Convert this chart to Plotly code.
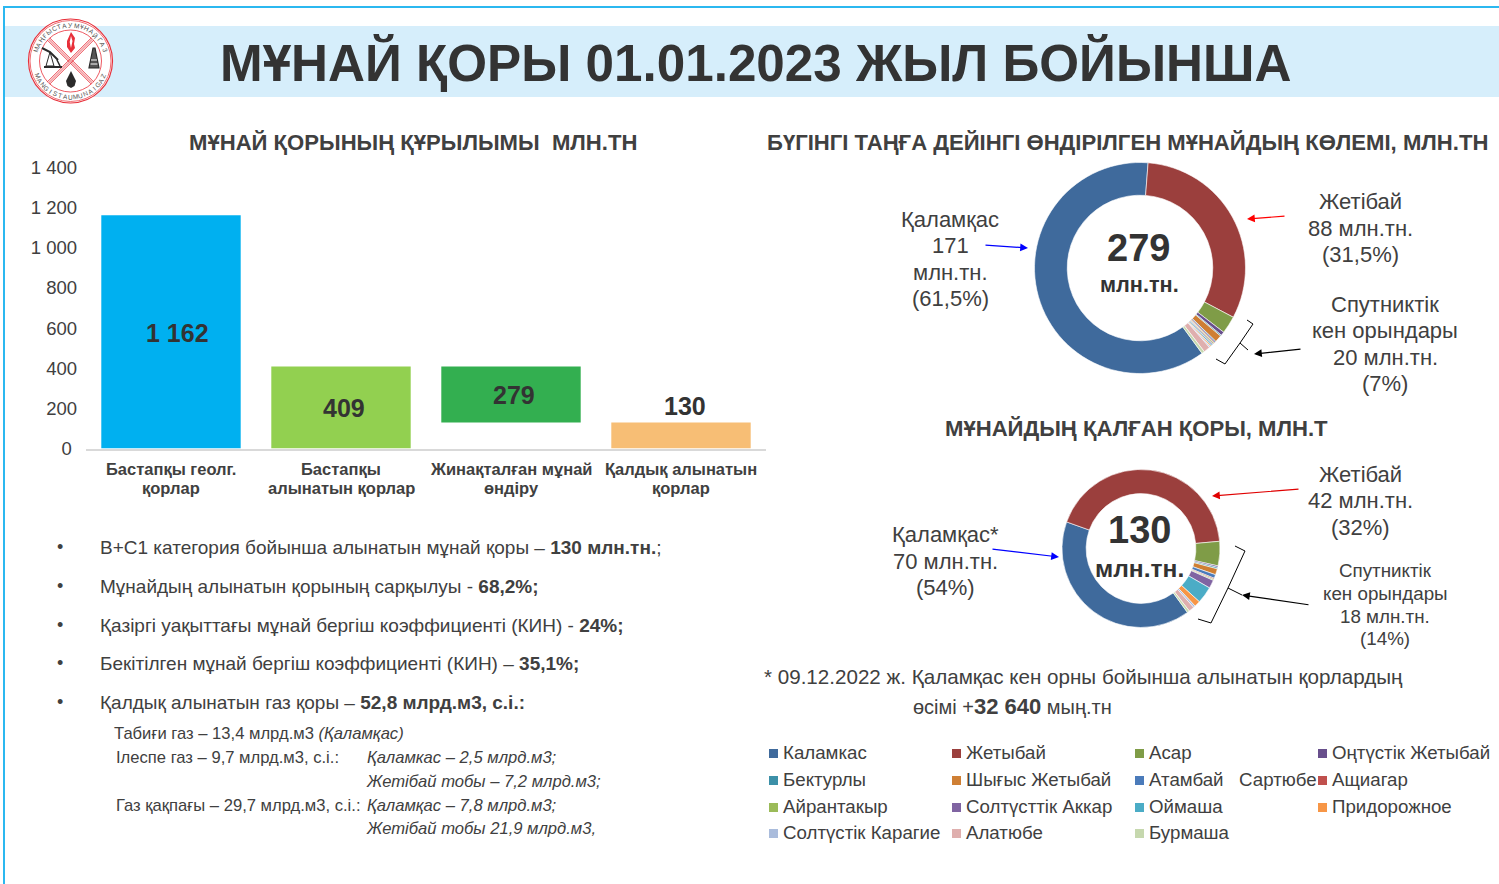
import math
import plotly.graph_objects as go

W, H = 1499, 884
FONT = "Liberation Sans"
DARK = "#404040"

# ---------- data ----------
bar_categories = ["Бастапқы геолг.<br>қорлар", "Бастапқы<br>алынатын қорлар",
                  "Жинақталған мұнай<br>өндіру", "Қалдық алынатын<br>қорлар"]
bar_values = [1162, 409, 279, 130]
bar_bases = [0, 0, 130, 0]
bar_labels = ["1 162", "409", "279", "130"]
bar_colors = ["#00B0F0", "#92D050", "#33AF50", "#F7BE75"]
y_tick_values = [0, 200, 400, 600, 800, 1000, 1200, 1400]
y_tick_labels = ["0\u00a0", "200", "400", "600", "800", "1 000", "1 200", "1 400"]

fields = ["Каламкас", "Жетыбай", "Асар", "Оңтүстік Жетыбай", "Бектурлы", "Шығыс Жетыбай",
          "Атамбай   Сартюбе", "Ащиагар", "Айрантакыр", "Солтүсттік Аккар", "Оймаша",
          "Придорожное", "Солтүстік Карагие", "Алатюбе", "Бурмаша"]
field_colors = ["#3F6A9C", "#9B3F3D", "#7F9C47", "#684F8C", "#3C90A8", "#CF7F34", "#4B7BBA",
                "#C0504D", "#9BBB59", "#8064A2", "#4BACC6", "#F79646", "#AABCDC", "#DFAFAE",
                "#C6D8AE"]
produced = [171, 88, 7.5, 1.6, 0.5, 3.0, 0.6, 0.5, 0.5, 0.5, 0.6, 0.5, 0.5, 2.8, 1.2]
remaining = [52.6, 56, 6.5, 0.4, 0.4, 1.6, 1.0, 0.3, 0.3, 2.2, 4.5, 1.6, 0.5, 1.5, 0.6]


# ---------- pixel helpers ----------
def px(x):
    return x / W


def py(y):
    return 1 - y / H


annotations = []
shapes = []


def T(x, y, text, size, color=DARK, bold=False, anchor="center", angle=0):
    annotations.append(dict(
        x=px(x), y=py(y), xref="paper", yref="paper", text=f"<b>{text}</b>" if bold else text,
        showarrow=False, xanchor=anchor, yanchor="middle", textangle=angle, borderpad=0, borderwidth=0,
        font=dict(family=FONT, size=size, color=color)))


def arrow(x0, y0, x1, y1, color):
    annotations.append(dict(
        x=px(x1), y=py(y1), xref="paper", yref="paper", text="", showarrow=True,
        ax=x0 - x1, ay=y0 - y1, axref="pixel", ayref="pixel",
        arrowhead=2, arrowsize=1.3, arrowwidth=1.2, arrowcolor=color))


def path(points, color=None, fill=None, width=1, close=False, layer="above"):
    d = "M" + " L".join(f"{px(x):.5f},{py(y):.5f}" for x, y in points) + (" Z" if close else "")
    shapes.append(dict(type="path", xref="paper", yref="paper", path=d, layer=layer,
                       line=dict(color=color or "rgba(0,0,0,0)", width=width),
                       fillcolor=fill or "rgba(0,0,0,0)"))


def rect(x0, y0, x1, y1, fill, layer="below"):
    shapes.append(dict(type="rect", xref="paper", yref="paper", x0=px(x0), x1=px(x1), y0=py(y0), y1=py(y1),
                       fillcolor=fill, line=dict(width=0), layer=layer))


def circle(cx, cy, r, line, fill=None, width=1):
    shapes.append(dict(type="circle", xref="paper", yref="paper", x0=px(cx - r), x1=px(cx + r),
                       y0=py(cy + r), y1=py(cy - r), fillcolor=fill or "rgba(0,0,0,0)",
                       line=dict(color=line, width=width), layer="above"))


# ---------- frame and header ----------
rect(3, 6, W, 8, "#2BB8F0")
rect(3, 6, 5, H, "#2BB8F0")
rect(5, 26, W, 97, "#D6EEFB")

T(755.5, 63, "МҰНАЙ ҚОРЫ 01.01.2023 ЖЫЛ БОЙЫНША", 51.2, "#333333", True)

# ---------- logo ----------
LX, LY = 70.5, 61
RED = "#E8303A"
circle(LX, LY, 42, RED, "#FFFFFF", 1.2)
circle(LX, LY, 40.5, RED, None, 0.7)
circle(LX, LY, 31, RED, None, 0.8)
for a in (45, 135):
    ca, sa = math.cos(math.radians(a)), math.sin(math.radians(a))
    for off, col, wd in ((-1.6, RED, 0.9), (0, "#F4A0A5", 1.4), (1.6, RED, 0.9)):
        path([(LX + 31 * ca - off * sa, LY + 31 * sa + off * ca),
              (LX - 31 * ca - off * sa, LY - 31 * sa + off * ca)], col, width=wd)
path([(71, 32), (75, 38), (74, 44), (75, 48), (71, 53), (67, 47), (67, 41)], fill=RED, close=True)
path([(71, 36), (72.5, 41), (71, 48), (69.7, 42)], fill="#FFFFFF", close=True)
path([(71, 71), (76, 81), (74.5, 86), (71, 88), (67.5, 86), (66, 81)], fill="#2B2B2B", close=True)
path([(93, 48), (95, 48), (99, 68), (89, 68)], "#2B2B2B", fill="#555555", width=1.2, close=True)
path([(91, 60), (97, 60)], "#FFFFFF", width=1)
path([(90.5, 64), (97.5, 64)], "#FFFFFF", width=1)
path([(42, 48), (50, 52), (58, 60)], "#2B2B2B", width=2)
path([(50, 52), (46, 66), (54, 66), (50, 52)], "#2B2B2B", width=1)
path([(44, 67), (62, 67)], "#2B2B2B", width=2)
path([(57, 60), (60, 66)], "#2B2B2B", width=1.5)
top_ring = "МАҢҒЫСТАУМҰНАЙГАЗ"
bottom_ring = "MANGISTAUMUNAIGAZ"
for i, ch in enumerate(top_ring):
    th = -72 + 144 * i / (len(top_ring) - 1)
    T(LX + 36 * math.sin(math.radians(th)), LY - 36 * math.cos(math.radians(th)), ch, 6.5, "#555555", angle=th)
for i, ch in enumerate(bottom_ring):
    th = -66 + 132 * i / (len(bottom_ring) - 1)
    T(LX + 36 * math.sin(math.radians(th)), LY + 36 * math.cos(math.radians(th)), ch, 6.5, "#555555", angle=-th)

# ---------- headings ----------
T(412.5, 143, "МҰНАЙ ҚОРЫНЫҢ ҚҰРЫЛЫМЫ  МЛН.ТН", 22.1, "#404040", True)
T(1127.5, 143, "БҮГІНГІ ТАҢҒА ДЕЙІНГІ ӨНДІРІЛГЕН МҰНАЙДЫҢ КӨЛЕМІ, МЛН.ТН", 22.1, "#404040", True)
T(1136, 428, "МҰНАЙДЫҢ ҚАЛҒАН ҚОРЫ, МЛН.Т", 22.1, "#404040", True)

# ---------- bar value and category labels ----------
for (x, y), label in zip([(177, 333), (344, 408), (514, 395), (685, 406)], bar_labels):
    T(x, y, label, 25, "#333333", True)
for i, cat in enumerate(bar_categories):
    for j, line in enumerate(cat.split("<br>")):
        annotations.append(dict(x=cat, xref="x", y=py(469 + 19 * j), yref="paper", text=f"<b>{line}</b>",
                                showarrow=False, xanchor="center", yanchor="middle", borderpad=0,
                                font=dict(family=FONT, size=16.5, color="#404040")))

# ---------- bullet list ----------
for y, text in [
    (547, "В+С1 категория бойынша алынатын мұнай қоры – <b>130 млн.тн.</b>;"),
    (586, "Мұнайдың алынатын қорының сарқылуы - <b>68,2%;</b>"),
    (625, "Қазіргі уақыттағы мұнай бергіш коэффициенті (КИН) - <b>24%;</b>"),
    (663, "Бекітілген мұнай бергіш коэффициенті (КИН) – <b>35,1%;</b>"),
    (702, "Қалдық алынатын газ қоры – <b>52,8 млрд.м3, с.і.:</b>"),
]:
    T(57, y, "•", 18, "#404040", anchor="left")
    T(100, y, text, 19, "#404040", anchor="left")

T(114, 733, "Табиғи газ – 13,4 млрд.м3 <i>(Қаламқас)</i>", 16.6, "#404040", anchor="left")
T(116, 757, "Ілеспе газ – 9,7 млрд.м3, с.і.:", 16.6, "#404040", anchor="left")
T(367, 757, "<i>Қаламкас – 2,5 млрд.м3;</i>", 16.6, "#404040", anchor="left")
T(366, 781, "<i>Жетібай тобы – 7,2 млрд.м3;</i>", 16.6, "#404040", anchor="left")
T(116, 805, "Газ қақпағы – 29,7 млрд.м3, с.і.:", 16.6, "#404040", anchor="left")
T(367, 805, "<i>Қаламқас – 7,8 млрд.м3;</i>", 16.6, "#404040", anchor="left")
T(366, 828, "<i>Жетібай тобы 21,9 млрд.м3,</i>", 16.6, "#404040", anchor="left")

# ---------- donut texts ----------
T(1138, 248, "279", 38, "#333333", True)
T(1139, 285, "млн.тн.", 21.7, "#333333", True)
T(1139, 530, "130", 38, "#333333", True)
T(1139.5, 568, "млн.тн.", 24.6, "#333333", True)

for y, s in [(219, "Қаламқас"), (245, "171"), (272, "млн.тн."), (298, "(61,5%)")]:
    T(950, y, s, 22)
for y, s in [(202, "Жетібай"), (229, "88 млн.тн."), (255, "(31,5%)")]:
    T(1360, y, s, 22)
for y, s in [(304, "Спутниктік"), (330, "кен орындары"), (357, "20 млн.тн."), (383, "(7%)")]:
    T(1385, y, s, 22)
for y, s in [(474, "Жетібай"), (500, "42 млн.тн."), (527, "(32%)")]:
    T(1360, y, s, 22)
for y, s in [(534, "Қаламқас*"), (561, "70 млн.тн."), (587, "(54%)")]:
    T(945, y, s, 22)
for y, s in [(570, "Спутниктік"), (593, "кен орындары"), (616, "18 млн.тн."), (638, "(14%)")]:
    T(1385, y, s, 18.8)

arrow(984, 245, 1028, 248, "#0000FF")
arrow(1286, 216, 1247, 219, "#FF0000")
arrow(1302, 349, 1254, 354, "#000000")
arrow(1300, 489, 1212, 496, "#E00000")
arrow(991, 549, 1059, 557, "#0000FF")
arrow(1310, 605, 1242, 595, "#000000")

path([(1247, 320), (1253, 324), (1240, 343), (1225, 364), (1216, 359)], "#000000")
path([(1240, 343), (1248, 350)], "#000000")
path([(1235, 546), (1245, 551), (1228, 588), (1211, 623), (1198, 619)], "#000000")
path([(1228, 588), (1242, 595)], "#000000")

# ---------- footnote ----------
T(764, 676, "* 09.12.2022 ж. Қаламқас кен орны бойынша алынатын қорлардың", 20.6, anchor="left")
T(913, 706, 'өсімі +<b><span style="font-size:22px">32 640</span></b> мың.тн', 20, anchor="left")

# ---------- legend (drawn as keys and labels, four columns) ----------
legend_x = [769, 952, 1135, 1318]
legend_y = [753, 780, 807, 833]
for i, (name, col) in enumerate(zip(fields, field_colors)):
    x, y = legend_x[i % 4], legend_y[i // 4]
    rect(x, y - 4, x + 9, y + 5, col)
    T(x + 14, y - 1, name, 18.7, "#404040", anchor="left")

# ---------- traces ----------
fig = go.Figure()
fig.add_trace(go.Bar(x=bar_categories, y=bar_values, base=bar_bases, marker=dict(color=bar_colors, line=dict(width=0)),
                     showlegend=False, hoverinfo="skip"))


def dom(cx, cy, r):
    return dict(x=[px(cx - r), px(cx + r)], y=[py(cy + r), py(cy - r)])


for vals, (cx, cy, r), hole in [(produced, (1140, 268, 105.5), 0.69), (remaining, (1141, 548.5, 79), 0.695)]:
    fig.add_trace(go.Pie(labels=fields, values=vals, domain=dom(cx, cy, r), hole=hole, sort=False,
                         direction="clockwise", rotation=144, textinfo="none", showlegend=False,
                         hoverinfo="label+value", marker=dict(colors=field_colors, line=dict(color="#FFFFFF", width=0.6))))

fig.update_layout(
    width=W, height=H, margin=dict(l=0, r=0, t=0, b=0, autoexpand=False), paper_bgcolor="#FFFFFF", plot_bgcolor="#FFFFFF",
    font=dict(family=FONT, color=DARK), bargap=0.18, annotations=annotations, shapes=shapes, showlegend=False,
    xaxis=dict(domain=[px(86), px(766)], anchor="y", type="category", showgrid=False, showline=True, linecolor="#D9D9D9",
               linewidth=2, ticks="", showticklabels=False, zeroline=False),
    yaxis=dict(domain=[py(448.5), py(167.5)], anchor="x", range=[0, 1400], tickvals=y_tick_values, ticktext=y_tick_labels,
               showgrid=False, showline=False, zeroline=False, ticks="", ticklabelstandoff=8,
               tickfont=dict(family=FONT, size=18.5, color="#404040")),
)

fig.write_html("out.html", config={"displayModeBar": False},
               post_script="document.body.style.margin='0';document.body.style.overflow='hidden';")
